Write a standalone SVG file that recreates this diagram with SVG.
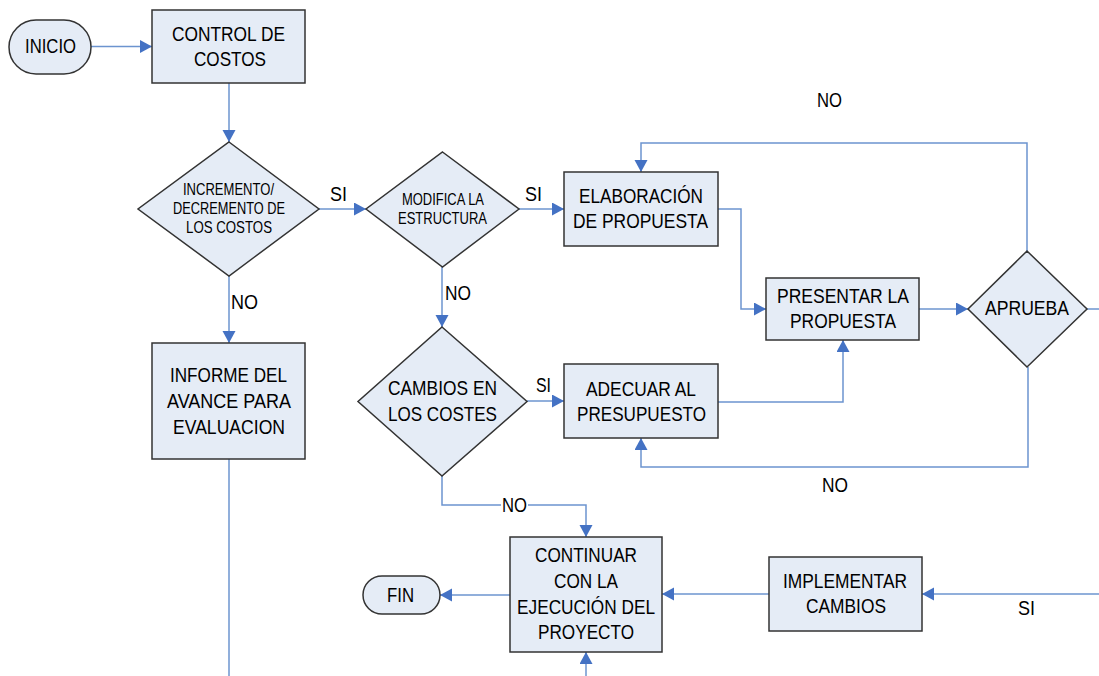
<svg xmlns="http://www.w3.org/2000/svg" width="1099" height="676" viewBox="0 0 1099 676">
  <style>
    .shape { fill: #E5ECF6; stroke: #333333; stroke-width: 1.5; }
    .conn { fill: none; stroke: #6C94CF; stroke-width: 1.5; }
    text { font-family: "Liberation Sans", Arial, sans-serif; fill: #000000; text-anchor: middle; }
    .t { font-size: 21px; }
    .s { font-size: 16.5px; }
  </style>
  <defs>
    <marker id="arrow" markerUnits="userSpaceOnUse" markerWidth="14" markerHeight="14" refX="12" refY="6.5" orient="auto">
      <path d="M0,0 L12,6.5 L0,13 Z" fill="#4472C4"/>
    </marker>
  </defs>
  <rect width="1099" height="676" fill="#FFFFFF"/>

  <!-- connectors -->
  <g id="connectors">
    <path class="conn" d="M91,46.5 H152" marker-end="url(#arrow)"/>
    <path class="conn" d="M229,83 V142" marker-end="url(#arrow)"/>
    <path class="conn" d="M319,209 H366" marker-end="url(#arrow)"/>
    <path class="conn" d="M519,209 H564" marker-end="url(#arrow)"/>
    <path class="conn" d="M229,276 V343" marker-end="url(#arrow)"/>
    <path class="conn" d="M229,459 V676"/>
    <path class="conn" d="M442,267 V327" marker-end="url(#arrow)"/>
    <path class="conn" d="M527,401 H564" marker-end="url(#arrow)"/>
    <path class="conn" d="M442,476 V505 H586 V537" marker-end="url(#arrow)"/>
    <path class="conn" d="M718,209 H741 V309 H766" marker-end="url(#arrow)"/>
    <path class="conn" d="M718,402 H843 V340" marker-end="url(#arrow)"/>
    <path class="conn" d="M919,309 H968" marker-end="url(#arrow)"/>
    <path class="conn" d="M1027,251 V143 H641 V172" marker-end="url(#arrow)"/>
    <path class="conn" d="M1028,367 V467 H641 V438" marker-end="url(#arrow)"/>
    <path class="conn" d="M1087,309 H1099"/>
    <path class="conn" d="M1099,594 H922" marker-end="url(#arrow)"/>
    <path class="conn" d="M769,594 H662" marker-end="url(#arrow)"/>
    <path class="conn" d="M510,595 H440" marker-end="url(#arrow)"/>
    <path class="conn" d="M586,676 V652" marker-end="url(#arrow)"/>
  </g>

  <!-- connector labels -->
  <g id="labels" class="t">
    <rect x="501" y="496" width="27" height="18" fill="#FFFFFF"/>
    <text x="338.5" y="201" textLength="17" lengthAdjust="spacingAndGlyphs">SI</text>
    <text x="533.5" y="201" textLength="17" lengthAdjust="spacingAndGlyphs">SI</text>
    <text x="543.5" y="392" textLength="15" lengthAdjust="spacingAndGlyphs">SI</text>
    <text x="1026.5" y="615" textLength="17" lengthAdjust="spacingAndGlyphs">SI</text>
    <text x="244.5" y="309" textLength="27" lengthAdjust="spacingAndGlyphs">NO</text>
    <text x="458" y="300" textLength="26" lengthAdjust="spacingAndGlyphs">NO</text>
    <text x="514.5" y="512" textLength="25" lengthAdjust="spacingAndGlyphs">NO</text>
    <text x="829.5" y="107" textLength="25" lengthAdjust="spacingAndGlyphs">NO</text>
    <text x="835" y="492" textLength="26" lengthAdjust="spacingAndGlyphs">NO</text>
  </g>

  <g id="inicio">
    <rect class="shape" x="9" y="20" width="82" height="54" rx="27" ry="27"/>
    <text class="t" x="50.5" y="53" textLength="51" lengthAdjust="spacingAndGlyphs">INICIO</text>
  </g>

  <g id="control-costos">
    <rect class="shape" x="152" y="10" width="153" height="73"/>
    <text class="t" x="228.5" y="41" textLength="113" lengthAdjust="spacingAndGlyphs">CONTROL DE</text>
    <text class="t" x="230" y="66" textLength="72" lengthAdjust="spacingAndGlyphs">COSTOS</text>
  </g>

  <g id="incremento">
    <polygon class="shape" points="229,142 319,209 229,276 138,209"/>
    <text class="s" x="228.5" y="195" textLength="91" lengthAdjust="spacingAndGlyphs">INCREMENTO/</text>
    <text class="s" x="229" y="214" textLength="112" lengthAdjust="spacingAndGlyphs">DECREMENTO DE</text>
    <text class="s" x="229" y="233" textLength="86" lengthAdjust="spacingAndGlyphs">LOS COSTOS</text>
  </g>

  <g id="modifica">
    <polygon class="shape" points="442.5,152 519,209 442.5,267 366,209"/>
    <text class="s" x="443" y="205" textLength="82" lengthAdjust="spacingAndGlyphs">MODIFICA LA</text>
    <text class="s" x="442.5" y="224" textLength="89" lengthAdjust="spacingAndGlyphs">ESTRUCTURA</text>
  </g>

  <g id="elaboracion">
    <rect class="shape" x="564" y="172" width="154" height="74"/>
    <text class="t" x="641" y="203" textLength="124" lengthAdjust="spacingAndGlyphs">ELABORACIÓN</text>
    <text class="t" x="640.5" y="228" textLength="135" lengthAdjust="spacingAndGlyphs">DE PROPUESTA</text>
  </g>

  <g id="presentar">
    <rect class="shape" x="766" y="278" width="153" height="62"/>
    <text class="t" x="843" y="303" textLength="132" lengthAdjust="spacingAndGlyphs">PRESENTAR LA</text>
    <text class="t" x="843" y="328" textLength="106" lengthAdjust="spacingAndGlyphs">PROPUESTA</text>
  </g>

  <g id="aprueba">
    <polygon class="shape" points="1027,251 1087,309 1027,367 968,309"/>
    <text class="t" x="1027" y="315" textLength="84" lengthAdjust="spacingAndGlyphs">APRUEBA</text>
  </g>

  <g id="informe">
    <rect class="shape" x="152" y="343" width="153" height="116"/>
    <text class="t" x="228.5" y="382" textLength="117" lengthAdjust="spacingAndGlyphs">INFORME DEL</text>
    <text class="t" x="229" y="408" textLength="124" lengthAdjust="spacingAndGlyphs">AVANCE PARA</text>
    <text class="t" x="229" y="434" textLength="112" lengthAdjust="spacingAndGlyphs">EVALUACION</text>
  </g>

  <g id="cambios-costes">
    <polygon class="shape" points="442,327 527,401.5 442,476 358,401.5"/>
    <text class="t" x="442.5" y="395" textLength="109" lengthAdjust="spacingAndGlyphs">CAMBIOS EN</text>
    <text class="t" x="442.5" y="421" textLength="109" lengthAdjust="spacingAndGlyphs">LOS COSTES</text>
  </g>

  <g id="adecuar">
    <rect class="shape" x="564" y="364" width="154" height="74"/>
    <text class="t" x="641" y="396" textLength="110" lengthAdjust="spacingAndGlyphs">ADECUAR AL</text>
    <text class="t" x="641.5" y="421" textLength="129" lengthAdjust="spacingAndGlyphs">PRESUPUESTO</text>
  </g>

  <g id="continuar">
    <rect class="shape" x="510" y="537" width="152" height="115"/>
    <text class="t" x="586" y="562" textLength="102" lengthAdjust="spacingAndGlyphs">CONTINUAR</text>
    <text class="t" x="586" y="588" textLength="64" lengthAdjust="spacingAndGlyphs">CON LA</text>
    <text class="t" x="586" y="614" textLength="138" lengthAdjust="spacingAndGlyphs">EJECUCIÓN DEL</text>
    <text class="t" x="586" y="639" textLength="96" lengthAdjust="spacingAndGlyphs">PROYECTO</text>
  </g>

  <g id="fin">
    <rect class="shape" x="363" y="576" width="77" height="38" rx="19" ry="19"/>
    <text class="t" x="400.5" y="602" textLength="27" lengthAdjust="spacingAndGlyphs">FIN</text>
  </g>

  <g id="implementar">
    <rect class="shape" x="769" y="557" width="153" height="74"/>
    <text class="t" x="845" y="588" textLength="124" lengthAdjust="spacingAndGlyphs">IMPLEMENTAR</text>
    <text class="t" x="846" y="613" textLength="80" lengthAdjust="spacingAndGlyphs">CAMBIOS</text>
  </g>
</svg>
